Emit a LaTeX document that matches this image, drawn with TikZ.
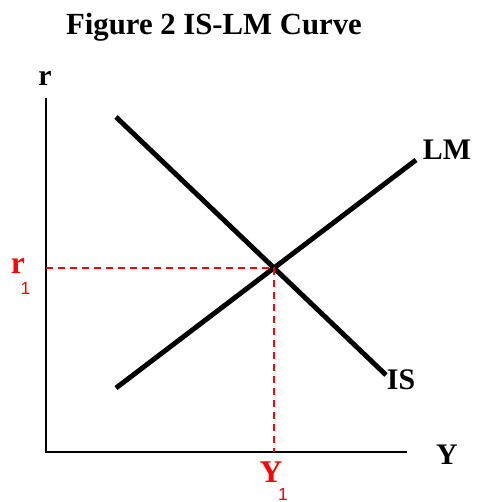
\documentclass[tikz,border=0pt]{standalone}
\usepackage{fontspec}
\setmainfont{Liberation Serif}
\setsansfont{Liberation Sans}
\usetikzlibrary{positioning, calc}
\definecolor{eqRed}{HTML}{FF0000}

\begin{document}
\begin{tikzpicture}[x=0.02cm, y=-0.02cm,
    curve/.style={line width=2.8pt},
    axis/.style={line width=1.7pt},
    guide/.style={dash pattern=on 0.14cm off 0.1cm, eqRed, line width=1pt},
    lbl/.style={font=\bfseries\fontsize{17}{17}\selectfont, inner sep=0pt},
    sub/.style={font=\sffamily\fontsize{10}{10}\selectfont, text=eqRed, inner sep=0pt}]
    \useasboundingbox (0,0) rectangle (476,502);

    % Title
    \node[font=\bfseries\fontsize{17.5}{17.5}\selectfont, anchor=base, inner sep=0pt] (title) at (214,35) {Figure 2 IS-LM Curve};

    % Axes
    \coordinate (O) at (46,452);
    \coordinate (ytop) at (46,98);
    \coordinate (xend) at (407,452);
    \draw[axis] (ytop) -- (O) -- (xend);
    \node[lbl] (rlab) at (45,78) {r};
    \node[lbl] (ylab) at (447,455) {Y};

    % IS and LM
    \coordinate (is1) at (116,117);
    \coordinate (is2) at (386,375);
    \coordinate (lm1) at (116,388);
    \coordinate (lm2) at (416,160);
    \draw[curve] (is1) -- (is2);
    \draw[curve] (lm1) -- (lm2);
    \node[lbl] (islab) at (401,380) {IS};
    \node[lbl] (lmlab) at (447,150) {LM};

    % Equilibrium
    \coordinate (E) at (intersection of is1--is2 and lm1--lm2);
    \draw[guide] (O |- E) -- (E) -- (E |- O);
    \node[lbl, text=eqRed, font=\bfseries\fontsize{18}{18}\selectfont] (r1) at (18,266) {r};
    \node[sub] (r1sub) at (25.5,288) {1};
    \node[lbl, text=eqRed, font=\bfseries\fontsize{18}{18}\selectfont] (Y1) at (271,472) {Y};
    \node[sub] (Y1sub) at (283,494) {1};
\end{tikzpicture}
\end{document}
